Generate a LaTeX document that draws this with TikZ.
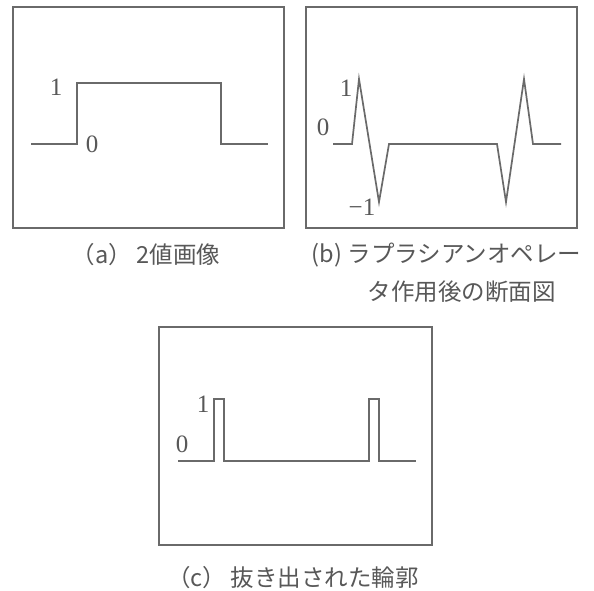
\documentclass[tikz,border=0pt]{standalone}
\usepackage{fontspec}
\setmainfont{Liberation Serif}
\newfontfamily\cjk{Noto Sans CJK JP}
\definecolor{ln}{HTML}{6A6A6A}
\definecolor{tx}{HTML}{585858}
\begin{document}
\begin{tikzpicture}[x=1pt,y=-1pt,
  framebox/.style={draw=ln,line width=1.9pt},
  sig/.style={draw=ln,line width=1.7pt,line join=miter},
  num/.style={text=tx,font=\fontsize{25}{25}\selectfont,inner sep=0pt},
  captext/.style={text=tx,font=\cjk\fontsize{23.5}{23.5}\selectfont,inner sep=0pt}]
\useasboundingbox (0,0) rectangle (594,590);
\fill[white] (0,0) rectangle (594,590);
% frames
\draw[framebox] (13,7) rectangle (284,228);
\draw[framebox] (306,7) rectangle (577,228);
\draw[framebox] (159,327) rectangle (432,545);
% signal a
\draw[sig] (31,144) -- (77,144) -- (77,83) -- (221,83) -- (221,144) -- (268,144);
% signal b
\draw[sig] (333,144) -- (352,144) -- (359,79) -- (379,202) -- (389,144) -- (497,144) -- (506,202) -- (524,79) -- (533,144) -- (561,144);
% signal c
\draw[sig] (178,461) -- (214,461) -- (214,399) -- (224,399) -- (224,461) -- (369,461) -- (369,399) -- (379,399) -- (379,461) -- (416,461);
% value labels
\node[num] (a1) at (56,87) {1};
\node[num] (a0) at (92,144) {0};
\node[num] (b1) at (346,88) {1};
\node[num] (b0) at (323,127) {0};
\node[num] (bm) at (362,207) {−1};
\node[num] (c1) at (203,404) {1};
\node[num] (c0) at (182,444) {0};
% captions
\node[captext] (capa) at (146,255) {（a）\hspace{5pt}2値画像};
\node[captext] (capb1) at (446.5,255) {(b) ラプラシアンオペレー};
\node[captext] (capb2) at (461.5,292) {タ作用後の断面図};
\node[captext] (capc) at (293,578) {（c）\hspace{5pt}抜き出された輪郭};
\end{tikzpicture}
\end{document}
